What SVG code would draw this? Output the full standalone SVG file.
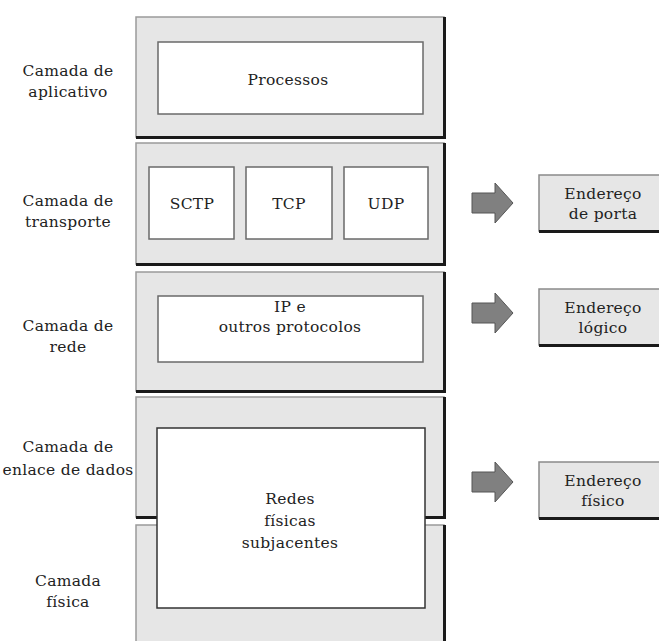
<svg xmlns="http://www.w3.org/2000/svg" width="659" height="641" viewBox="0 0 659 641">
<style>
text{font-family:"DejaVu Serif",serif;font-size:15.5px;letter-spacing:0.3px;fill:#222;text-anchor:middle}
.layer{fill:#e6e6e6;stroke:#9a9a9a;stroke-width:1.5}
.shadow{fill:none;stroke:#1a1a1a;stroke-width:3}
.inner{fill:#fff;stroke:#6a6a6a;stroke-width:1.5}
.addr{fill:#e6e6e6;stroke:#8a8a8a;stroke-width:1.5}
.arrow{fill:#808080;stroke:#555;stroke-width:1}
</style>
<g id="labels">
<text x="68" y="76">Camada de</text><text x="68" y="97">aplicativo</text>
<text x="68" y="206">Camada de</text><text x="68" y="227">transporte</text>
<text x="68" y="331">Camada de</text><text x="68" y="352">rede</text>
<text x="68" y="452">Camada de</text><text x="68" y="475">enlace de dados</text>
<text x="68" y="586">Camada</text><text x="68" y="607">física</text>
</g>
<g id="layer-aplicativo">
<rect class="layer" x="136" y="17" width="308" height="120"/>
<polyline class="shadow" points="136,137.5 444.5,137.5 444.5,17"/>
<rect class="inner" x="158" y="42" width="265" height="72"/>
<text x="288" y="85">Processos</text>
</g>
<g id="layer-transporte">
<rect class="layer" x="136" y="143" width="308" height="121"/>
<polyline class="shadow" points="136,264.5 444.5,264.5 444.5,143"/>
<g id="sctp"><rect class="inner" x="149" y="167" width="85" height="72"/><text x="192" y="209">SCTP</text></g>
<g id="tcp"><rect class="inner" x="246" y="167" width="86" height="72"/><text x="289" y="209">TCP</text></g>
<g id="udp"><rect class="inner" x="344" y="167" width="84" height="72"/><text x="386" y="209">UDP</text></g>
</g>
<g id="layer-rede">
<rect class="layer" x="136" y="272" width="308" height="119"/>
<polyline class="shadow" points="136,391.5 444.5,391.5 444.5,272"/>
<rect class="inner" x="158" y="296" width="265" height="66"/>
<text x="290" y="312">IP e</text>
<text x="290" y="332">outros protocolos</text>
</g>
<g id="layer-enlace">
<rect class="layer" x="136" y="397" width="308" height="120"/>
<polyline class="shadow" points="136,517.5 444.5,517.5 444.5,397"/>
</g>
<g id="layer-fisica">
<rect class="layer" x="136" y="525" width="308" height="130"/>
<line class="shadow" x1="444.5" y1="525" x2="444.5" y2="641"/>
</g>
<g id="redes-fisicas">
<rect class="inner" x="157" y="428" width="268" height="180" style="stroke:#333"/>
<text x="290" y="504">Redes</text>
<text x="290" y="526">físicas</text>
<text x="290" y="548">subjacentes</text>
</g>
<g id="connectors">
<polygon class="arrow" points="472,193 495,193 495,183 513,203 495,223 495,213 472,213"/>
<polygon class="arrow" points="472,303 495,303 495,293 513,313 495,333 495,323 472,323"/>
<polygon class="arrow" points="472,472 495,472 495,462 513,482 495,502 495,492 472,492"/>
</g>
<g id="endereco-porta">
<rect class="addr" x="539" y="175" width="125" height="56"/>
<line class="shadow" x1="539" y1="231.5" x2="664" y2="231.5"/>
<text x="603" y="199">Endereço</text><text x="603" y="219">de porta</text>
</g>
<g id="endereco-logico">
<rect class="addr" x="539" y="289" width="125" height="56"/>
<line class="shadow" x1="539" y1="345.5" x2="664" y2="345.5"/>
<text x="603" y="313">Endereço</text><text x="603" y="333">lógico</text>
</g>
<g id="endereco-fisico">
<rect class="addr" x="539" y="462" width="125" height="56"/>
<line class="shadow" x1="539" y1="518.5" x2="664" y2="518.5"/>
<text x="603" y="486">Endereço</text><text x="603" y="506">físico</text>
</g>
</svg>
